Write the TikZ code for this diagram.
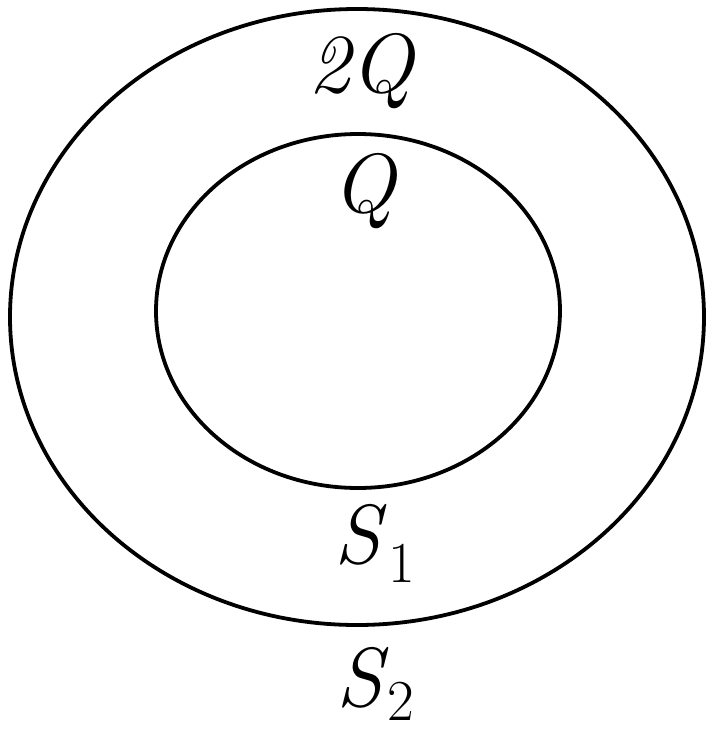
\documentclass[tikz,border=0pt]{standalone}
\begin{document}
\begin{tikzpicture}[x=1pt,y=-1pt,
  ring/.style={draw=black,line width=3.8pt},
  lbl/.style={font=\fontsize{84}{90}\selectfont\itshape,inner sep=0pt,anchor=base west},
  sub/.style={font=\fontsize{58}{62}\selectfont,inner sep=0pt,anchor=base west}]
\useasboundingbox (0,0) rectangle (711,731);
\draw[ring] (357,317) ellipse [x radius=347,y radius=308] node (outer) {};
\draw[ring] (358,311) ellipse [x radius=202,y radius=177] node (inner) {};
\node[lbl] (q2) at (308,92) {2Q};
\node[lbl] (q1) at (332,212) {Q};
\node[lbl] (s1) at (334,563) {S};
\node[sub] (s1i) at (388,582) {1};
\node[lbl] (s2) at (336,706) {S};
\node[sub] (s2i) at (387,720) {2};
\end{tikzpicture}
\end{document}
